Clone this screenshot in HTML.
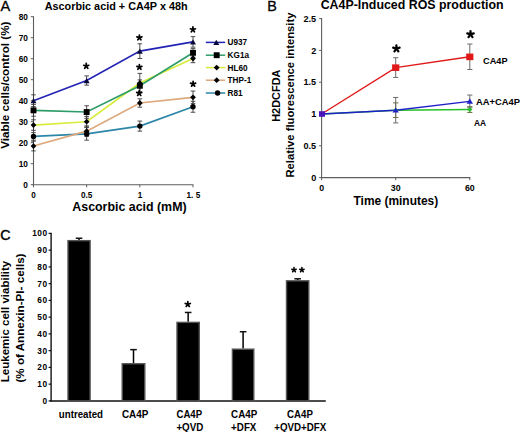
<!DOCTYPE html>
<html><head><meta charset="utf-8"><style>
html,body{margin:0;padding:0;background:#fff;}
svg{display:block;}
</style></head><body>
<svg width="520" height="432" viewBox="0 0 520 432">
<rect width="520" height="432" fill="#fff"/>
<text x="0.4" y="10.6" font-size="14.6" stroke="#000" stroke-width="0.3" font-family="'Liberation Sans', sans-serif">A</text>
<text x="44.7" y="9.8" font-size="10.85" font-weight="bold" font-family="'Liberation Sans', sans-serif">Ascorbic acid + CA4P x 48h</text>
<line x1="33.5" y1="16.2" x2="33.5" y2="185.2" stroke="#5e5e5e" stroke-width="1.1"/>
<line x1="30.8" y1="184.7" x2="33.5" y2="184.7" stroke="#5e5e5e" stroke-width="1"/>
<text x="27.9" y="187.6" font-size="8.3" font-weight="bold" text-anchor="end" font-family="'Liberation Sans', sans-serif">0</text>
<line x1="30.8" y1="163.7" x2="33.5" y2="163.7" stroke="#5e5e5e" stroke-width="1"/>
<text x="27.9" y="166.6" font-size="8.3" font-weight="bold" text-anchor="end" font-family="'Liberation Sans', sans-serif">10</text>
<line x1="30.8" y1="142.7" x2="33.5" y2="142.7" stroke="#5e5e5e" stroke-width="1"/>
<text x="27.9" y="145.6" font-size="8.3" font-weight="bold" text-anchor="end" font-family="'Liberation Sans', sans-serif">20</text>
<line x1="30.8" y1="121.7" x2="33.5" y2="121.7" stroke="#5e5e5e" stroke-width="1"/>
<text x="27.9" y="124.6" font-size="8.3" font-weight="bold" text-anchor="end" font-family="'Liberation Sans', sans-serif">30</text>
<line x1="30.8" y1="100.7" x2="33.5" y2="100.7" stroke="#5e5e5e" stroke-width="1"/>
<text x="27.9" y="103.6" font-size="8.3" font-weight="bold" text-anchor="end" font-family="'Liberation Sans', sans-serif">40</text>
<line x1="30.8" y1="79.7" x2="33.5" y2="79.7" stroke="#5e5e5e" stroke-width="1"/>
<text x="27.9" y="82.6" font-size="8.3" font-weight="bold" text-anchor="end" font-family="'Liberation Sans', sans-serif">50</text>
<line x1="30.8" y1="58.7" x2="33.5" y2="58.7" stroke="#5e5e5e" stroke-width="1"/>
<text x="27.9" y="61.6" font-size="8.3" font-weight="bold" text-anchor="end" font-family="'Liberation Sans', sans-serif">60</text>
<line x1="30.8" y1="37.7" x2="33.5" y2="37.7" stroke="#5e5e5e" stroke-width="1"/>
<text x="27.9" y="40.6" font-size="8.3" font-weight="bold" text-anchor="end" font-family="'Liberation Sans', sans-serif">70</text>
<line x1="30.8" y1="16.7" x2="33.5" y2="16.7" stroke="#5e5e5e" stroke-width="1"/>
<text x="27.9" y="19.6" font-size="8.3" font-weight="bold" text-anchor="end" font-family="'Liberation Sans', sans-serif">80</text>
<line x1="32.5" y1="184.7" x2="193.3" y2="184.7" stroke="#5e5e5e" stroke-width="1.1"/>
<line x1="33.5" y1="184.7" x2="33.5" y2="187.3" stroke="#5e5e5e" stroke-width="1"/>
<text x="33.5" y="197.7" font-size="8.2" font-weight="bold" text-anchor="middle" font-family="'Liberation Sans', sans-serif">0</text>
<line x1="86.66" y1="184.7" x2="86.66" y2="187.3" stroke="#5e5e5e" stroke-width="1"/>
<text x="86.66" y="197.7" font-size="8.2" font-weight="bold" text-anchor="middle" font-family="'Liberation Sans', sans-serif">0.5</text>
<line x1="139.83" y1="184.7" x2="139.83" y2="187.3" stroke="#5e5e5e" stroke-width="1"/>
<text x="140.13" y="197.7" font-size="8.2" font-weight="bold" text-anchor="middle" font-family="'Liberation Sans', sans-serif">1</text>
<line x1="193" y1="184.7" x2="193" y2="187.3" stroke="#5e5e5e" stroke-width="1"/>
<text x="193.4" y="197.7" font-size="8.2" font-weight="bold" text-anchor="middle" font-family="'Liberation Sans', sans-serif">1. 5</text>
<text x="72.3" y="211.4" font-size="12.4" font-weight="bold" font-family="'Liberation Sans', sans-serif">Ascorbic acid (mM)</text>
<text transform="translate(8.5,148.8) rotate(-90)" font-size="11.65" font-weight="bold" font-family="'Liberation Sans', sans-serif">Viable cells/control (%)</text>
<line x1="33.5" y1="94.82" x2="33.5" y2="106.58" stroke="#3a3a3a" stroke-width="0.9"/>
<line x1="31.2" y1="94.82" x2="35.8" y2="94.82" stroke="#3a3a3a" stroke-width="0.9"/>
<line x1="31.2" y1="106.58" x2="35.8" y2="106.58" stroke="#3a3a3a" stroke-width="0.9"/>
<line x1="86.66" y1="75.92" x2="86.66" y2="85.16" stroke="#3a3a3a" stroke-width="0.9"/>
<line x1="84.36" y1="75.92" x2="88.96" y2="75.92" stroke="#3a3a3a" stroke-width="0.9"/>
<line x1="84.36" y1="85.16" x2="88.96" y2="85.16" stroke="#3a3a3a" stroke-width="0.9"/>
<line x1="139.83" y1="43.79" x2="139.83" y2="58.49" stroke="#3a3a3a" stroke-width="0.9"/>
<line x1="137.53" y1="43.79" x2="142.13" y2="43.79" stroke="#3a3a3a" stroke-width="0.9"/>
<line x1="137.53" y1="58.49" x2="142.13" y2="58.49" stroke="#3a3a3a" stroke-width="0.9"/>
<line x1="193" y1="36.65" x2="193" y2="47.15" stroke="#3a3a3a" stroke-width="0.9"/>
<line x1="190.69" y1="36.65" x2="195.3" y2="36.65" stroke="#3a3a3a" stroke-width="0.9"/>
<line x1="190.69" y1="47.15" x2="195.3" y2="47.15" stroke="#3a3a3a" stroke-width="0.9"/>
<line x1="33.5" y1="104.48" x2="33.5" y2="116.24" stroke="#3a3a3a" stroke-width="0.9"/>
<line x1="31.2" y1="104.48" x2="35.8" y2="104.48" stroke="#3a3a3a" stroke-width="0.9"/>
<line x1="31.2" y1="116.24" x2="35.8" y2="116.24" stroke="#3a3a3a" stroke-width="0.9"/>
<line x1="86.66" y1="105.74" x2="86.66" y2="118.34" stroke="#3a3a3a" stroke-width="0.9"/>
<line x1="84.36" y1="105.74" x2="88.96" y2="105.74" stroke="#3a3a3a" stroke-width="0.9"/>
<line x1="84.36" y1="118.34" x2="88.96" y2="118.34" stroke="#3a3a3a" stroke-width="0.9"/>
<line x1="139.83" y1="79.91" x2="139.83" y2="91.67" stroke="#3a3a3a" stroke-width="0.9"/>
<line x1="137.53" y1="79.91" x2="142.13" y2="79.91" stroke="#3a3a3a" stroke-width="0.9"/>
<line x1="137.53" y1="91.67" x2="142.13" y2="91.67" stroke="#3a3a3a" stroke-width="0.9"/>
<line x1="193" y1="48.62" x2="193" y2="57.02" stroke="#3a3a3a" stroke-width="0.9"/>
<line x1="190.69" y1="48.62" x2="195.3" y2="48.62" stroke="#3a3a3a" stroke-width="0.9"/>
<line x1="190.69" y1="57.02" x2="195.3" y2="57.02" stroke="#3a3a3a" stroke-width="0.9"/>
<line x1="33.5" y1="119.81" x2="33.5" y2="130.31" stroke="#3a3a3a" stroke-width="0.9"/>
<line x1="31.2" y1="119.81" x2="35.8" y2="119.81" stroke="#3a3a3a" stroke-width="0.9"/>
<line x1="31.2" y1="130.31" x2="35.8" y2="130.31" stroke="#3a3a3a" stroke-width="0.9"/>
<line x1="86.66" y1="116.45" x2="86.66" y2="126.95" stroke="#3a3a3a" stroke-width="0.9"/>
<line x1="84.36" y1="116.45" x2="88.96" y2="116.45" stroke="#3a3a3a" stroke-width="0.9"/>
<line x1="84.36" y1="126.95" x2="88.96" y2="126.95" stroke="#3a3a3a" stroke-width="0.9"/>
<line x1="139.83" y1="73.4" x2="139.83" y2="92.72" stroke="#3a3a3a" stroke-width="0.9"/>
<line x1="137.53" y1="73.4" x2="142.13" y2="73.4" stroke="#3a3a3a" stroke-width="0.9"/>
<line x1="137.53" y1="92.72" x2="142.13" y2="92.72" stroke="#3a3a3a" stroke-width="0.9"/>
<line x1="193" y1="54.29" x2="193" y2="62.69" stroke="#3a3a3a" stroke-width="0.9"/>
<line x1="190.69" y1="54.29" x2="195.3" y2="54.29" stroke="#3a3a3a" stroke-width="0.9"/>
<line x1="190.69" y1="62.69" x2="195.3" y2="62.69" stroke="#3a3a3a" stroke-width="0.9"/>
<line x1="33.5" y1="141.23" x2="33.5" y2="150.89" stroke="#3a3a3a" stroke-width="0.9"/>
<line x1="31.2" y1="141.23" x2="35.8" y2="141.23" stroke="#3a3a3a" stroke-width="0.9"/>
<line x1="31.2" y1="150.89" x2="35.8" y2="150.89" stroke="#3a3a3a" stroke-width="0.9"/>
<line x1="86.66" y1="125.9" x2="86.66" y2="136.4" stroke="#3a3a3a" stroke-width="0.9"/>
<line x1="84.36" y1="125.9" x2="88.96" y2="125.9" stroke="#3a3a3a" stroke-width="0.9"/>
<line x1="84.36" y1="136.4" x2="88.96" y2="136.4" stroke="#3a3a3a" stroke-width="0.9"/>
<line x1="139.83" y1="98.81" x2="139.83" y2="107.21" stroke="#3a3a3a" stroke-width="0.9"/>
<line x1="137.53" y1="98.81" x2="142.13" y2="98.81" stroke="#3a3a3a" stroke-width="0.9"/>
<line x1="137.53" y1="107.21" x2="142.13" y2="107.21" stroke="#3a3a3a" stroke-width="0.9"/>
<line x1="193" y1="91.04" x2="193" y2="103.64" stroke="#3a3a3a" stroke-width="0.9"/>
<line x1="190.69" y1="91.04" x2="195.3" y2="91.04" stroke="#3a3a3a" stroke-width="0.9"/>
<line x1="190.69" y1="103.64" x2="195.3" y2="103.64" stroke="#3a3a3a" stroke-width="0.9"/>
<line x1="33.5" y1="132.62" x2="33.5" y2="140.18" stroke="#3a3a3a" stroke-width="0.9"/>
<line x1="31.2" y1="132.62" x2="35.8" y2="132.62" stroke="#3a3a3a" stroke-width="0.9"/>
<line x1="31.2" y1="140.18" x2="35.8" y2="140.18" stroke="#3a3a3a" stroke-width="0.9"/>
<line x1="86.66" y1="127.58" x2="86.66" y2="140.18" stroke="#3a3a3a" stroke-width="0.9"/>
<line x1="84.36" y1="127.58" x2="88.96" y2="127.58" stroke="#3a3a3a" stroke-width="0.9"/>
<line x1="84.36" y1="140.18" x2="88.96" y2="140.18" stroke="#3a3a3a" stroke-width="0.9"/>
<line x1="139.83" y1="121.07" x2="139.83" y2="131.15" stroke="#3a3a3a" stroke-width="0.9"/>
<line x1="137.53" y1="121.07" x2="142.13" y2="121.07" stroke="#3a3a3a" stroke-width="0.9"/>
<line x1="137.53" y1="131.15" x2="142.13" y2="131.15" stroke="#3a3a3a" stroke-width="0.9"/>
<line x1="193" y1="101.33" x2="193" y2="112.25" stroke="#3a3a3a" stroke-width="0.9"/>
<line x1="190.69" y1="101.33" x2="195.3" y2="101.33" stroke="#3a3a3a" stroke-width="0.9"/>
<line x1="190.69" y1="112.25" x2="195.3" y2="112.25" stroke="#3a3a3a" stroke-width="0.9"/>
<polyline points="33.50,136.40 86.66,133.88 139.83,126.11 193.00,106.79" fill="none" stroke="#2c86a8" stroke-width="1.65"/>
<polyline points="33.50,146.06 86.66,131.15 139.83,103.01 193.00,97.34" fill="none" stroke="#dca87c" stroke-width="1.65"/>
<polyline points="33.50,125.06 86.66,121.70 139.83,83.06 193.00,58.49" fill="none" stroke="#d8ec3c" stroke-width="1.65"/>
<polyline points="33.50,110.36 86.66,112.04 139.83,85.79 193.00,52.82" fill="none" stroke="#2e9c68" stroke-width="1.65"/>
<polyline points="33.50,100.70 86.66,80.54 139.83,51.14 193.00,41.90" fill="none" stroke="#2424b4" stroke-width="1.65"/>
<circle cx="33.5" cy="136.4" r="2.7" fill="#000"/>
<circle cx="86.66" cy="133.88" r="2.7" fill="#000"/>
<circle cx="139.83" cy="126.11" r="2.7" fill="#000"/>
<circle cx="193" cy="106.79" r="2.7" fill="#000"/>
<polygon points="33.5,143.16 36.4,146.06 33.5,148.96 30.6,146.06" fill="#000"/>
<polygon points="86.66,128.25 89.56,131.15 86.66,134.05 83.76,131.15" fill="#000"/>
<polygon points="139.83,100.11 142.73,103.01 139.83,105.91 136.93,103.01" fill="#000"/>
<polygon points="193,94.44 195.9,97.34 193,100.24 190.09,97.34" fill="#000"/>
<polygon points="33.5,122.16 36.4,125.06 33.5,127.96 30.6,125.06" fill="#000"/>
<polygon points="86.66,118.8 89.56,121.7 86.66,124.6 83.76,121.7" fill="#000"/>
<polygon points="139.83,80.16 142.73,83.06 139.83,85.96 136.93,83.06" fill="#000"/>
<polygon points="193,55.59 195.9,58.49 193,61.39 190.09,58.49" fill="#000"/>
<rect x="30.55" y="107.41" width="5.9" height="5.9" fill="#000"/>
<rect x="83.71" y="109.09" width="5.9" height="5.9" fill="#000"/>
<rect x="136.88" y="82.84" width="5.9" height="5.9" fill="#000"/>
<rect x="190.05" y="49.87" width="5.9" height="5.9" fill="#000"/>
<polygon points="30.5,103.3 36.5,103.3 33.5,98.1" fill="#0a0a3a"/>
<polygon points="83.66,83.14 89.66,83.14 86.66,77.94" fill="#0a0a3a"/>
<polygon points="136.83,53.74 142.83,53.74 139.83,48.54" fill="#0a0a3a"/>
<polygon points="190,44.5 196,44.5 193,39.3" fill="#0a0a3a"/>
<line x1="205.8" y1="42.4" x2="225.2" y2="42.4" stroke="#2424b4" stroke-width="1.5"/>
<polygon points="213.3,45.0 219.3,45.0 216.3,39.8" fill="#0a0a3a"/>
<text x="227.6" y="45.4" font-size="8.2" font-weight="bold" font-family="'Liberation Sans', sans-serif">U937</text>
<line x1="205.8" y1="55.2" x2="225.2" y2="55.2" stroke="#2e9c68" stroke-width="1.5"/>
<rect x="213.75" y="52.25" width="5.9" height="5.9" fill="#000"/>
<text x="227.6" y="58.2" font-size="8.2" font-weight="bold" font-family="'Liberation Sans', sans-serif">KG1a</text>
<line x1="205.8" y1="67.6" x2="225.2" y2="67.6" stroke="#d8ec3c" stroke-width="1.5"/>
<polygon points="216.7,64.7 219.6,67.6 216.7,70.5 213.8,67.6" fill="#000"/>
<text x="227.6" y="70.6" font-size="8.2" font-weight="bold" font-family="'Liberation Sans', sans-serif">HL60</text>
<line x1="205.8" y1="80.2" x2="225.2" y2="80.2" stroke="#dca87c" stroke-width="1.5"/>
<polygon points="216.7,77.3 219.6,80.2 216.7,83.1 213.8,80.2" fill="#000"/>
<text x="227.6" y="83.2" font-size="8.2" font-weight="bold" font-family="'Liberation Sans', sans-serif">THP-1</text>
<line x1="205.8" y1="93.0" x2="225.2" y2="93.0" stroke="#2c86a8" stroke-width="1.5"/>
<circle cx="217.6" cy="93.0" r="2.7" fill="#000"/>
<text x="227.6" y="96.0" font-size="8.2" font-weight="bold" font-family="'Liberation Sans', sans-serif">R81</text>
<path d="M86.25,66.10L86.25,63.47M86.25,66.10L88.75,65.29M86.25,66.10L87.79,68.22M86.25,66.10L84.71,68.22M86.25,66.10L83.75,65.29" stroke="#000" stroke-width="1.75" stroke-linecap="round" fill="none"/>
<path d="M139.40,37.70L139.40,35.08M139.40,37.70L141.90,36.89M139.40,37.70L140.94,39.82M139.40,37.70L137.86,39.82M139.40,37.70L136.90,36.89" stroke="#000" stroke-width="1.75" stroke-linecap="round" fill="none"/>
<path d="M139.40,67.20L139.40,64.58M139.40,67.20L141.90,66.39M139.40,67.20L140.94,69.32M139.40,67.20L137.86,69.32M139.40,67.20L136.90,66.39" stroke="#000" stroke-width="1.75" stroke-linecap="round" fill="none"/>
<path d="M139.20,93.30L139.20,90.67M139.20,93.30L141.70,92.49M139.20,93.30L140.74,95.42M139.20,93.30L137.66,95.42M139.20,93.30L136.70,92.49" stroke="#000" stroke-width="1.75" stroke-linecap="round" fill="none"/>
<path d="M192.90,29.60L192.90,26.98M192.90,29.60L195.40,28.79M192.90,29.60L194.44,31.72M192.90,29.60L191.36,31.72M192.90,29.60L190.40,28.79" stroke="#000" stroke-width="1.75" stroke-linecap="round" fill="none"/>
<path d="M193.10,84.00L193.10,81.38M193.10,84.00L195.60,83.19M193.10,84.00L194.64,86.12M193.10,84.00L191.56,86.12M193.10,84.00L190.60,83.19" stroke="#000" stroke-width="1.75" stroke-linecap="round" fill="none"/>
<text x="267.2" y="10.6" font-size="14.4" stroke="#000" stroke-width="0.3" font-family="'Liberation Sans', sans-serif">B</text>
<text x="320.7" y="9.4" font-size="12.38" font-weight="bold" font-family="'Liberation Sans', sans-serif">CA4P-Induced ROS production</text>
<line x1="321.6" y1="18.1" x2="321.6" y2="178.1" stroke="#5e5e5e" stroke-width="1.1"/>
<line x1="319.1" y1="177.6" x2="321.6" y2="177.6" stroke="#5e5e5e" stroke-width="1"/>
<text x="316.2" y="180.8" font-size="9.1" font-weight="bold" text-anchor="end" font-family="'Liberation Sans', sans-serif">0</text>
<line x1="319.1" y1="145.8" x2="321.6" y2="145.8" stroke="#5e5e5e" stroke-width="1"/>
<text x="316.2" y="149" font-size="9.1" font-weight="bold" text-anchor="end" font-family="'Liberation Sans', sans-serif">0.5</text>
<line x1="319.1" y1="114.0" x2="321.6" y2="114.0" stroke="#5e5e5e" stroke-width="1"/>
<text x="316.2" y="117.2" font-size="9.1" font-weight="bold" text-anchor="end" font-family="'Liberation Sans', sans-serif">1</text>
<line x1="319.1" y1="82.2" x2="321.6" y2="82.2" stroke="#5e5e5e" stroke-width="1"/>
<text x="316.2" y="85.4" font-size="9.1" font-weight="bold" text-anchor="end" font-family="'Liberation Sans', sans-serif">1.5</text>
<line x1="319.1" y1="50.4" x2="321.6" y2="50.4" stroke="#5e5e5e" stroke-width="1"/>
<text x="316.2" y="53.6" font-size="9.1" font-weight="bold" text-anchor="end" font-family="'Liberation Sans', sans-serif">2</text>
<line x1="319.1" y1="18.6" x2="321.6" y2="18.6" stroke="#5e5e5e" stroke-width="1"/>
<text x="316.2" y="21.8" font-size="9.1" font-weight="bold" text-anchor="end" font-family="'Liberation Sans', sans-serif">2.5</text>
<line x1="321.1" y1="177.6" x2="470.3" y2="177.6" stroke="#5e5e5e" stroke-width="1.1"/>
<line x1="321.6" y1="177.6" x2="321.6" y2="180.2" stroke="#5e5e5e" stroke-width="1"/>
<text x="321.6" y="191.0" font-size="8.8" font-weight="bold" text-anchor="middle" font-family="'Liberation Sans', sans-serif">0</text>
<line x1="395.7" y1="177.6" x2="395.7" y2="180.2" stroke="#5e5e5e" stroke-width="1"/>
<text x="395.7" y="191.0" font-size="8.8" font-weight="bold" text-anchor="middle" font-family="'Liberation Sans', sans-serif">30</text>
<line x1="469.8" y1="177.6" x2="469.8" y2="180.2" stroke="#5e5e5e" stroke-width="1"/>
<text x="469.8" y="191.0" font-size="8.8" font-weight="bold" text-anchor="middle" font-family="'Liberation Sans', sans-serif">60</text>
<text x="353.5" y="205.1" font-size="11.95" font-weight="bold" font-family="'Liberation Sans', sans-serif">Time (minutes)</text>
<text transform="translate(293.8,177.6) rotate(-90)" font-size="11.25" font-weight="bold" font-family="'Liberation Sans', sans-serif">Relative fluorescence intensity</text>
<text transform="translate(280.3,121.8) rotate(-90)" font-size="10.95" font-weight="bold" font-family="'Liberation Sans', sans-serif">H2DCFDA</text>
<line x1="395.7" y1="102.87" x2="395.7" y2="117.5" stroke="#6b6b3a" stroke-width="1"/>
<line x1="393.1" y1="102.87" x2="398.3" y2="102.87" stroke="#6b6b3a" stroke-width="1"/>
<line x1="393.1" y1="117.5" x2="398.3" y2="117.5" stroke="#6b6b3a" stroke-width="1"/>
<line x1="469.8" y1="106.69" x2="469.8" y2="112.41" stroke="#6b6b3a" stroke-width="1"/>
<line x1="467.2" y1="106.69" x2="472.4" y2="106.69" stroke="#6b6b3a" stroke-width="1"/>
<line x1="467.2" y1="112.41" x2="472.4" y2="112.41" stroke="#6b6b3a" stroke-width="1"/>
<line x1="395.7" y1="97.46" x2="395.7" y2="122.9" stroke="#6a6a6a" stroke-width="1"/>
<line x1="393.1" y1="97.46" x2="398.3" y2="97.46" stroke="#6a6a6a" stroke-width="1"/>
<line x1="393.1" y1="122.9" x2="398.3" y2="122.9" stroke="#6a6a6a" stroke-width="1"/>
<line x1="469.8" y1="95.05" x2="469.8" y2="107.77" stroke="#6a6a6a" stroke-width="1"/>
<line x1="467.2" y1="95.05" x2="472.4" y2="95.05" stroke="#6a6a6a" stroke-width="1"/>
<line x1="467.2" y1="107.77" x2="472.4" y2="107.77" stroke="#6a6a6a" stroke-width="1"/>
<line x1="395.7" y1="57.71" x2="395.7" y2="77.43" stroke="#6a6a6a" stroke-width="1"/>
<line x1="393.1" y1="57.71" x2="398.3" y2="57.71" stroke="#6a6a6a" stroke-width="1"/>
<line x1="393.1" y1="77.43" x2="398.3" y2="77.43" stroke="#6a6a6a" stroke-width="1"/>
<line x1="469.8" y1="44.04" x2="469.8" y2="69.48" stroke="#6a6a6a" stroke-width="1"/>
<line x1="467.2" y1="44.04" x2="472.4" y2="44.04" stroke="#6a6a6a" stroke-width="1"/>
<line x1="467.2" y1="69.48" x2="472.4" y2="69.48" stroke="#6a6a6a" stroke-width="1"/>
<polyline points="321.60,114.00 395.70,110.18 469.80,109.55" fill="none" stroke="#28c028" stroke-width="1.4"/>
<polyline points="321.60,114.00 395.70,110.18 469.80,101.41" fill="none" stroke="#2020c8" stroke-width="1.4"/>
<polyline points="321.60,114.00 395.70,67.57 469.80,56.76" fill="none" stroke="#e01818" stroke-width="1.4"/>
<polygon points="395.7,107.78 398.3,110.18 395.7,112.58 393.1,110.18" fill="#28c028"/>
<polygon points="469.8,107.15 472.4,109.55 469.8,111.95 467.2,109.55" fill="#28c028"/>
<polygon points="392.5,112.58 398.9,112.58 395.7,107.38" fill="#2020c8"/>
<polygon points="466.6,103.81 473.0,103.81 469.8,98.61" fill="#2020c8"/>
<rect x="392.1" y="64.37" width="7.2" height="6.6" fill="#e01818"/>
<rect x="466.2" y="53.56" width="7.2" height="6.6" fill="#e01818"/>
<rect x="319" y="111.2" width="6" height="5.6" fill="#4a14b8"/>
<text x="483" y="64.3" font-size="9.2" font-weight="bold" font-family="'Liberation Sans', sans-serif">CA4P</text>
<text x="476" y="104.5" font-size="9.4" font-weight="bold" font-family="'Liberation Sans', sans-serif">AA+CA4P</text>
<text x="474" y="125.5" font-size="8.4" font-weight="bold" font-family="'Liberation Sans', sans-serif">AA</text>
<path d="M396.40,48.70L396.40,45.33M396.40,48.70L399.61,47.66M396.40,48.70L398.38,51.43M396.40,48.70L394.42,51.43M396.40,48.70L393.19,47.66" stroke="#000" stroke-width="2.25" stroke-linecap="round" fill="none"/>
<path d="M470.50,34.40L470.50,31.02M470.50,34.40L473.71,33.36M470.50,34.40L472.48,37.13M470.50,34.40L468.52,37.13M470.50,34.40L467.29,33.36" stroke="#000" stroke-width="2.25" stroke-linecap="round" fill="none"/>
<text x="0.2" y="240.0" font-size="14.2" stroke="#000" stroke-width="0.45" font-family="'Liberation Sans', sans-serif">C</text>
<line x1="51.1" y1="232.8" x2="51.1" y2="401.6" stroke="#111" stroke-width="1.4"/>
<line x1="48.6" y1="400.9" x2="51.1" y2="400.9" stroke="#111" stroke-width="1.2"/>
<text x="47.6" y="403.8" font-size="8.3" font-weight="bold" text-anchor="end" font-family="'Liberation Sans', sans-serif" letter-spacing="0.5">0</text>
<line x1="48.6" y1="384.15" x2="51.1" y2="384.15" stroke="#111" stroke-width="1.2"/>
<text x="47.6" y="387.05" font-size="8.3" font-weight="bold" text-anchor="end" font-family="'Liberation Sans', sans-serif" letter-spacing="0.5">10</text>
<line x1="48.6" y1="367.4" x2="51.1" y2="367.4" stroke="#111" stroke-width="1.2"/>
<text x="47.6" y="370.3" font-size="8.3" font-weight="bold" text-anchor="end" font-family="'Liberation Sans', sans-serif" letter-spacing="0.5">20</text>
<line x1="48.6" y1="350.65" x2="51.1" y2="350.65" stroke="#111" stroke-width="1.2"/>
<text x="47.6" y="353.55" font-size="8.3" font-weight="bold" text-anchor="end" font-family="'Liberation Sans', sans-serif" letter-spacing="0.5">30</text>
<line x1="48.6" y1="333.9" x2="51.1" y2="333.9" stroke="#111" stroke-width="1.2"/>
<text x="47.6" y="336.8" font-size="8.3" font-weight="bold" text-anchor="end" font-family="'Liberation Sans', sans-serif" letter-spacing="0.5">40</text>
<line x1="48.6" y1="317.15" x2="51.1" y2="317.15" stroke="#111" stroke-width="1.2"/>
<text x="47.6" y="320.05" font-size="8.3" font-weight="bold" text-anchor="end" font-family="'Liberation Sans', sans-serif" letter-spacing="0.5">50</text>
<line x1="48.6" y1="300.4" x2="51.1" y2="300.4" stroke="#111" stroke-width="1.2"/>
<text x="47.6" y="303.3" font-size="8.3" font-weight="bold" text-anchor="end" font-family="'Liberation Sans', sans-serif" letter-spacing="0.5">60</text>
<line x1="48.6" y1="283.65" x2="51.1" y2="283.65" stroke="#111" stroke-width="1.2"/>
<text x="47.6" y="286.55" font-size="8.3" font-weight="bold" text-anchor="end" font-family="'Liberation Sans', sans-serif" letter-spacing="0.5">70</text>
<line x1="48.6" y1="266.9" x2="51.1" y2="266.9" stroke="#111" stroke-width="1.2"/>
<text x="47.6" y="269.8" font-size="8.3" font-weight="bold" text-anchor="end" font-family="'Liberation Sans', sans-serif" letter-spacing="0.5">80</text>
<line x1="48.6" y1="250.15" x2="51.1" y2="250.15" stroke="#111" stroke-width="1.2"/>
<text x="47.6" y="253.05" font-size="8.3" font-weight="bold" text-anchor="end" font-family="'Liberation Sans', sans-serif" letter-spacing="0.5">90</text>
<line x1="48.6" y1="233.4" x2="51.1" y2="233.4" stroke="#111" stroke-width="1.2"/>
<text x="47.6" y="236.3" font-size="8.3" font-weight="bold" text-anchor="end" font-family="'Liberation Sans', sans-serif" letter-spacing="0.5">100</text>
<line x1="50.2" y1="400.9" x2="325.8" y2="400.9" stroke="#111" stroke-width="1.5"/>
<line x1="79.05" y1="238.26" x2="79.05" y2="239.93" stroke="#000" stroke-width="1.5"/>
<line x1="75.75" y1="238.26" x2="82.35" y2="238.26" stroke="#111" stroke-width="1.5"/>
<rect x="68.0" y="240.63" width="22.1" height="160.27" fill="#000" stroke="#555" stroke-width="1.4"/>
<line x1="133.5" y1="349.64" x2="133.5" y2="363.04" stroke="#000" stroke-width="1.5"/>
<line x1="130.2" y1="349.64" x2="136.8" y2="349.64" stroke="#111" stroke-width="1.5"/>
<rect x="122.2" y="363.74" width="22.6" height="37.16" fill="#000" stroke="#555" stroke-width="1.4"/>
<line x1="188.15" y1="312.46" x2="188.15" y2="321.67" stroke="#000" stroke-width="1.5"/>
<line x1="184.85" y1="312.46" x2="191.45" y2="312.46" stroke="#111" stroke-width="1.5"/>
<rect x="177.0" y="322.37" width="22.3" height="78.53" fill="#000" stroke="#555" stroke-width="1.4"/>
<line x1="243.1" y1="331.72" x2="243.1" y2="348.47" stroke="#000" stroke-width="1.5"/>
<line x1="239.8" y1="331.72" x2="246.4" y2="331.72" stroke="#111" stroke-width="1.5"/>
<rect x="232.4" y="349.17" width="21.4" height="51.73" fill="#000" stroke="#555" stroke-width="1.4"/>
<line x1="297.65" y1="278.79" x2="297.65" y2="280.13" stroke="#000" stroke-width="1.5"/>
<line x1="294.35" y1="278.79" x2="300.95" y2="278.79" stroke="#111" stroke-width="1.5"/>
<rect x="286.5" y="280.83" width="22.3" height="120.07" fill="#000" stroke="#555" stroke-width="1.4"/>
<text x="58.80" y="418.2" font-size="10.1" font-weight="bold" textLength="44.20" lengthAdjust="spacingAndGlyphs" font-family="'Liberation Sans', sans-serif">untreated</text>
<text x="121.90" y="418.2" font-size="10.1" font-weight="bold" textLength="26.40" lengthAdjust="spacingAndGlyphs" font-family="'Liberation Sans', sans-serif">CA4P</text>
<text x="176.50" y="418.2" font-size="10.1" font-weight="bold" textLength="25.60" lengthAdjust="spacingAndGlyphs" font-family="'Liberation Sans', sans-serif">CA4P</text>
<text x="231.10" y="418.2" font-size="10.1" font-weight="bold" textLength="26.10" lengthAdjust="spacingAndGlyphs" font-family="'Liberation Sans', sans-serif">CA4P</text>
<text x="287.10" y="418.2" font-size="10.1" font-weight="bold" textLength="25.80" lengthAdjust="spacingAndGlyphs" font-family="'Liberation Sans', sans-serif">CA4P</text>
<text x="176.40" y="431.0" font-size="10.1" font-weight="bold" textLength="27.00" lengthAdjust="spacingAndGlyphs" font-family="'Liberation Sans', sans-serif">+QVD</text>
<text x="231.10" y="431.0" font-size="10.1" font-weight="bold" textLength="25.30" lengthAdjust="spacingAndGlyphs" font-family="'Liberation Sans', sans-serif">+DFX</text>
<text x="274.20" y="431.0" font-size="10.1" font-weight="bold" textLength="52.00" lengthAdjust="spacingAndGlyphs" font-family="'Liberation Sans', sans-serif">+QVD+DFX</text>
<path d="M187.80,304.30L187.80,301.68M187.80,304.30L190.30,303.49M187.80,304.30L189.34,306.42M187.80,304.30L186.26,306.42M187.80,304.30L185.30,303.49" stroke="#000" stroke-width="1.75" stroke-linecap="round" fill="none"/>
<path d="M294.00,269.90L294.00,267.57M294.00,269.90L296.21,269.18M294.00,269.90L295.37,271.78M294.00,269.90L292.63,271.78M294.00,269.90L291.79,269.18" stroke="#000" stroke-width="1.55" stroke-linecap="round" fill="none"/>
<path d="M301.90,269.90L301.90,267.57M301.90,269.90L304.11,269.18M301.90,269.90L303.27,271.78M301.90,269.90L300.53,271.78M301.90,269.90L299.69,269.18" stroke="#000" stroke-width="1.55" stroke-linecap="round" fill="none"/>
<text transform="translate(9.0,382.2) rotate(-90)" font-size="11.5" font-weight="bold" font-family="'Liberation Sans', sans-serif">Leukemic cell viability</text>
<text transform="translate(24.0,382.6) rotate(-90)" font-size="11.66" font-weight="bold" font-family="'Liberation Sans', sans-serif">(% of Annexin-PI- cells)</text>
</svg>
</body></html>
